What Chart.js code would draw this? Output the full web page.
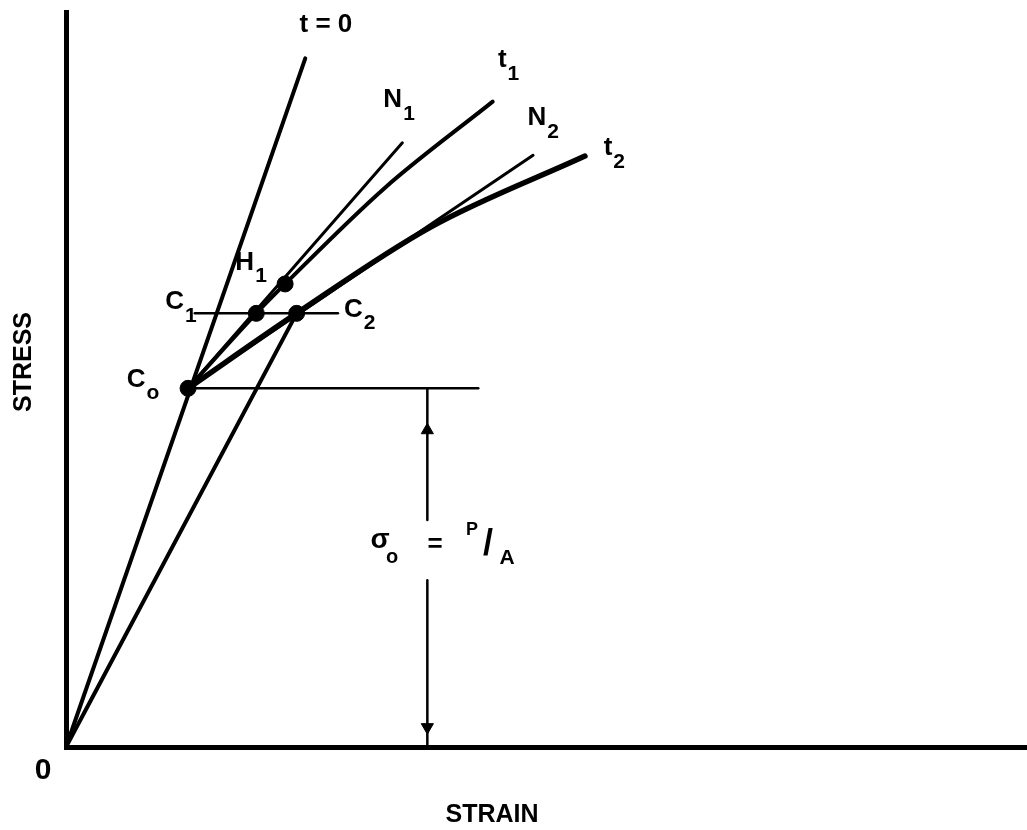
<!DOCTYPE html>
<html>
<head>
<meta charset="utf-8">
<script src="https://cdn.jsdelivr.net/npm/chart.js@4.4.1/dist/chart.umd.min.js"></script>
<style>
  html, body { margin: 0; padding: 0; background: #fff; overflow: hidden; }
  #wrap { width: 1027px; height: 830px; }
  canvas { display: block; }
</style>
</head>
<body>
<div id="wrap"><canvas id="myChart" width="1027" height="830"></canvas></div>
<script>
// stress / strain points (strain 0..10, stress 0..10)
const origin = [0, 0];
const C0 = [1.27, 4.88];
const C1 = [1.98, 5.90];
const C2 = [2.40, 5.90];
const H1 = [2.28, 6.30];

const lineT0 = [origin, [2.49, 9.37]];
const lineOC2 = [origin, C2];
const lineN1 = [C0, [3.50, 8.22]];
const lineN2 = [C0, [4.86, 8.05]];
const curveT1 = [C0, C1, H1, [3.32, 7.61], [4.44, 8.78]];
const curveT2 = [C0, C2, [3.79, 7.07], [5.40, 8.04]];
const lineC1C2 = [[1.34, 5.90], [2.83, 5.90]];
const lineC0 = [C0, [4.29, 4.88]];
const arrowUpper = [[3.76, 4.88], [3.76, 3.09]];
const arrowLower = [[3.76, 2.27], [3.76, 0]];
const arrowHeads = [[3.76, 4.31], [3.76, 0.27]];
const dots = [C0, C1, C2, H1];

// labels: main text, subscript, anchor in data units
const labels = [
  { text: 't = 0', sub: '', at: [2.43, 9.82], align: 'left' },
  { text: 'N', sub: '1', at: [3.40, 8.80] },
  { text: 't', sub: '1', at: [4.54, 9.35] },
  { text: 'N', sub: '2', at: [4.90, 8.56] },
  { text: 't', sub: '2', at: [5.64, 8.15] },
  { text: 'H', sub: '1', at: [1.86, 6.59] },
  { text: 'C', sub: '1', at: [1.13, 6.05] },
  { text: 'C', sub: '2', at: [2.99, 5.95] },
  { text: 'C', sub: 'o', at: [0.73, 5.00] }
];

const toXY = arr => arr.map(p => ({ x: p[0], y: p[1] }));

function lineSet(pts, width, curved) {
  return {
    data: toXY(pts),
    showLine: true,
    borderColor: '#000',
    borderWidth: width,
    pointRadius: 0,
    tension: curved ? 0.4 : 0,
    cubicInterpolationMode: curved ? 'monotone' : 'default',
    borderCapStyle: 'round',
    clip: false
  };
}

const FONT = '"Liberation Sans", "DejaVu Sans", sans-serif';

const textPlugin = {
  id: 'textPlugin',
  afterDatasetsDraw(chart) {
    const ctx = chart.ctx;
    const xs = chart.scales.x, ys = chart.scales.y;
    ctx.save();
    ctx.fillStyle = '#000';
    ctx.textBaseline = 'middle';
    labels.forEach(l => {
      const px = xs.getPixelForValue(l.at[0]);
      const py = ys.getPixelForValue(l.at[1]);
      ctx.font = 'bold 26px ' + FONT;
      ctx.textAlign = l.align || 'center';
      ctx.fillText(l.text, px, py);
      if (l.sub) {
        const w = ctx.measureText(l.text).width;
        ctx.font = 'bold 21px ' + FONT;
        ctx.textAlign = 'left';
        ctx.fillText(l.sub, px + w / 2 + 1, py + 14);
      }
    });

    // sigma_o = P/A
    ctx.textAlign = 'center';
    ctx.font = 'bold 28px ' + FONT;
    ctx.fillText('\u03c3', 380, 540);
    ctx.font = 'bold 20px ' + FONT;
    ctx.fillText('o', 392, 557);
    ctx.font = 'bold 26px ' + FONT;
    ctx.fillText('=', 435, 545);
    ctx.font = 'bold 18px ' + FONT;
    ctx.fillText('P', 472, 530);
    ctx.font = 'bold 36px ' + FONT;
    ctx.fillText('/', 488, 545);
    ctx.font = 'bold 21px ' + FONT;
    ctx.fillText('A', 507, 558);

    // origin and axis titles
    ctx.font = 'bold 30px ' + FONT;
    ctx.fillText('0', 43, 771);
    ctx.font = 'bold 25px ' + FONT;
    ctx.fillText('STRAIN', 492, 815);
    ctx.translate(24, 362);
    ctx.rotate(-Math.PI / 2);
    ctx.fillText('STRESS', 0, 0);
    ctx.restore();
  }
};

new Chart(document.getElementById('myChart'), {
  type: 'scatter',
  data: {
    datasets: [
      lineSet(lineT0, 4),
      lineSet(lineOC2, 4),
      lineSet(lineN1, 3),
      lineSet(lineN2, 3),
      lineSet(curveT1, 4, true),
      lineSet(curveT2, 5.5, true),
      lineSet(lineC1C2, 2.5),
      lineSet(lineC0, 2.5),
      lineSet(arrowUpper, 2.5),
      lineSet(arrowLower, 2.5),
      {
        data: toXY(arrowHeads),
        pointStyle: 'triangle',
        pointRadius: 7,
        rotation: [0, 180],
        backgroundColor: '#000',
        borderColor: '#000',
        clip: false
      },
      {
        data: toXY(dots),
        pointRadius: 8,
        backgroundColor: '#000',
        borderColor: '#000',
        clip: false
      }
    ]
  },
  options: {
    responsive: false,
    animation: false,
    layout: { autoPadding: false, padding: { left: 66, top: 12, right: 0, bottom: 83 } },
    plugins: { legend: { display: false }, tooltip: { enabled: false } },
    scales: {
      x: {
        type: 'linear', min: 0, max: 10,
        grid: { display: false, drawTicks: false },
        ticks: { display: false },
        border: { display: true, color: '#000', width: 5 }
      },
      y: {
        type: 'linear', min: 0, max: 10,
        grid: { display: false, drawTicks: false },
        ticks: { display: false },
        border: { display: true, color: '#000', width: 5 }
      }
    }
  },
  plugins: [textPlugin]
});
</script>
</body>
</html>
